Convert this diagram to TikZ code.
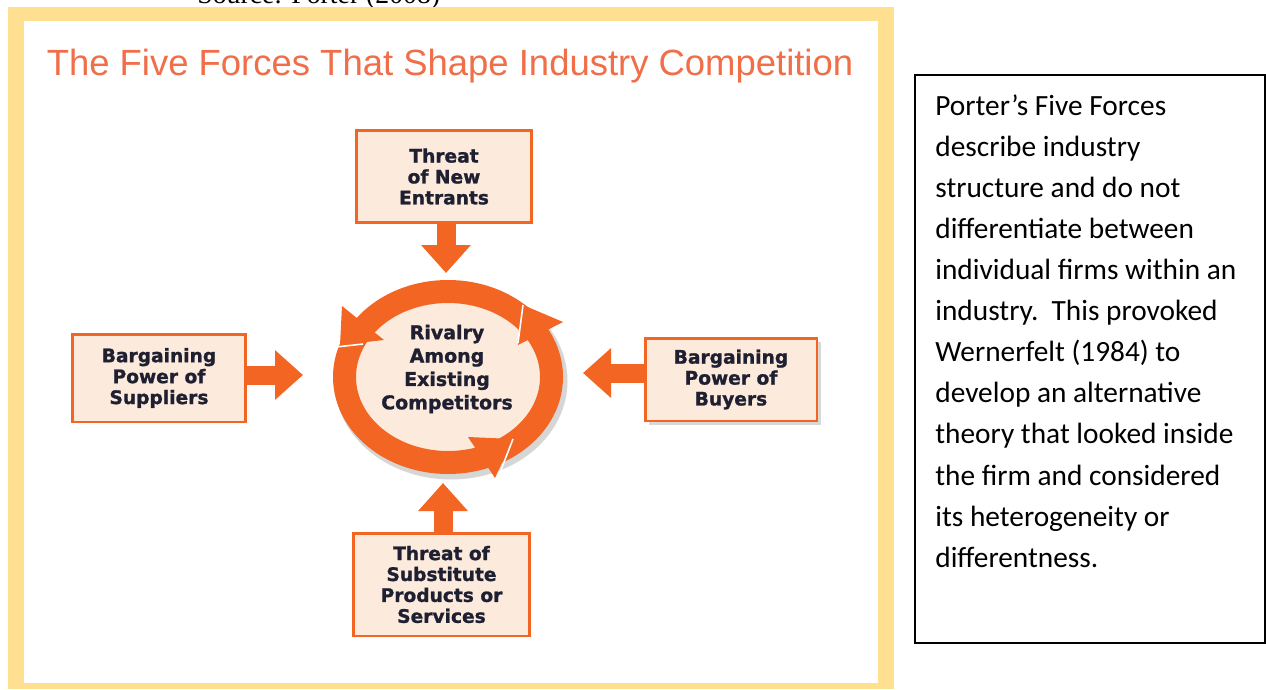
\documentclass[tikz,border=0pt]{standalone}
\usepackage{fontspec}
\usepackage{xcolor}
\usepackage{tikz}
\usetikzlibrary{arrows.meta,calc,positioning,shadows}
\newfontfamily\forcefont{DejaVu Sans}[BoldFeatures={FakeBold=1.2}]
\newfontfamily\headfont{Liberation Sans}
\newfontfamily\notefont{Carlito}
\newfontfamily\srcfont{Liberation Serif}
\definecolor{frameyellow}{RGB}{255,224,145}
\definecolor{forceorange}{RGB}{242,101,34}
\definecolor{headorange}{RGB}{240,110,72}
\definecolor{boxpeach}{RGB}{252,235,221}
\definecolor{forcetext}{RGB}{30,32,50}
\tikzset{
  force/.style={draw=forceorange, line width=1.7pt, fill=boxpeach, align=center, text=forcetext,
    inner sep=0pt, font=\forcefont\bfseries\fontsize{10.6}{11.9}\selectfont},
  push/.style={draw=forceorange, line width=0.38cm, -{Triangle[length=0.56cm,width=0.96cm]}},
  ring/.style={draw=forceorange, line width=0.46cm},
  cut/.style={draw=white, line width=0.9pt}
}

\begin{document}
\begin{tikzpicture}[x=0.02cm,y=-0.02cm]
\useasboundingbox (0,0) rectangle (1266,689);
%\draw[help lines,step=100] (0,0) grid (1266,689);
\begin{scope}
\clip (0,0) rectangle (1266,689);
\node[anchor=base west, inner sep=0pt, font=\srcfont\fontsize{15.8}{18}\selectfont] (source) at (197,4) {Source: Porter (2008)};
\end{scope}

% yellow frame
\fill[frameyellow] (8,7) rectangle (894,689);
\fill[white] (24,21) rectangle (878,683);
\node[anchor=base, inner sep=0pt, text=headorange, font=\headfont\fontsize{20.75}{24}\selectfont] (title) at (450,76) {The Five Forces That Shape Industry Competition};

% the four forces
\node[force, minimum width=3.52cm, minimum height=1.86cm] (entrants) at (444,176.5) {Threat\\of New\\Entrants};
\node[force, minimum width=3.48cm, minimum height=1.76cm] (suppliers) at (159,378) {Bargaining\\Power of\\Suppliers};
\node[force, minimum width=3.44cm, minimum height=1.66cm, drop shadow={opacity=0.3,shadow xshift=2pt,shadow yshift=-2pt}] (buyers) at (731,379.5) {Bargaining\\Power of\\Buyers};
\node[force, minimum width=3.54cm, minimum height=2.06cm] (substitutes) at (441.5,584.5) {Threat of\\Substitute\\Products or\\Services};

% rivalry ring
\coordinate (ringc) at (448,377);
\draw[line width=0.5cm, black!35, opacity=0.45] ($(ringc)+(3,4)$) ellipse [x radius=104, y radius=86];
\fill[boxpeach] (ringc) ellipse [x radius=104, y radius=86];
\draw[ring] (ringc) ellipse [x radius=103.5, y radius=85.5];
\fill[forceorange] (523,305) -- (563,322) -- (518,345) -- cycle;
\fill[forceorange] (340,345) -- (342,306) -- (384,340) -- cycle;
\fill[forceorange] (513,439) -- (468,437) -- (495,478) -- cycle;
\draw[cut] (523,305) -- (518,343);
\draw[cut] (336,347) -- (363,344);
\draw[cut] (513,439) -- (499,475);
\node[align=center, inner sep=0pt, text=forcetext, font=\forcefont\bfseries\fontsize{10.8}{13.3}\selectfont] (rival) at (447,369) {Rivalry\\Among\\Existing\\Competitors};

% arrows into the ring
\coordinate (tipN) at (446,273);
\coordinate (tipL) at (303,375);
\coordinate (tipR) at (583,373);
\coordinate (tipS) at (443,483);
\draw[push] (entrants.south -| tipN) -- (tipN);
\draw[push] (suppliers.east |- tipL) -- (tipL);
\draw[push] (buyers.west |- tipR) -- (tipR);
\draw[push] (substitutes.north -| tipS) -- (tipS);

% note on the right
\draw[black, line width=1pt] (915,75) rectangle (1265,643);
\node[anchor=north west, inner sep=0pt, align=left, font=\notefont\fontsize{16.7}{23.4}\selectfont] (note) at (935,94) {Porter’s Five Forces\\describe industry\\structure and do not\\differentiate between\\individual firms within an\\industry.\ \ This provoked\\Wernerfelt (1984) to\\develop an alternative\\theory that looked inside\\the firm and considered\\its heterogeneity or\\differentness.};
\end{tikzpicture}
\end{document}
